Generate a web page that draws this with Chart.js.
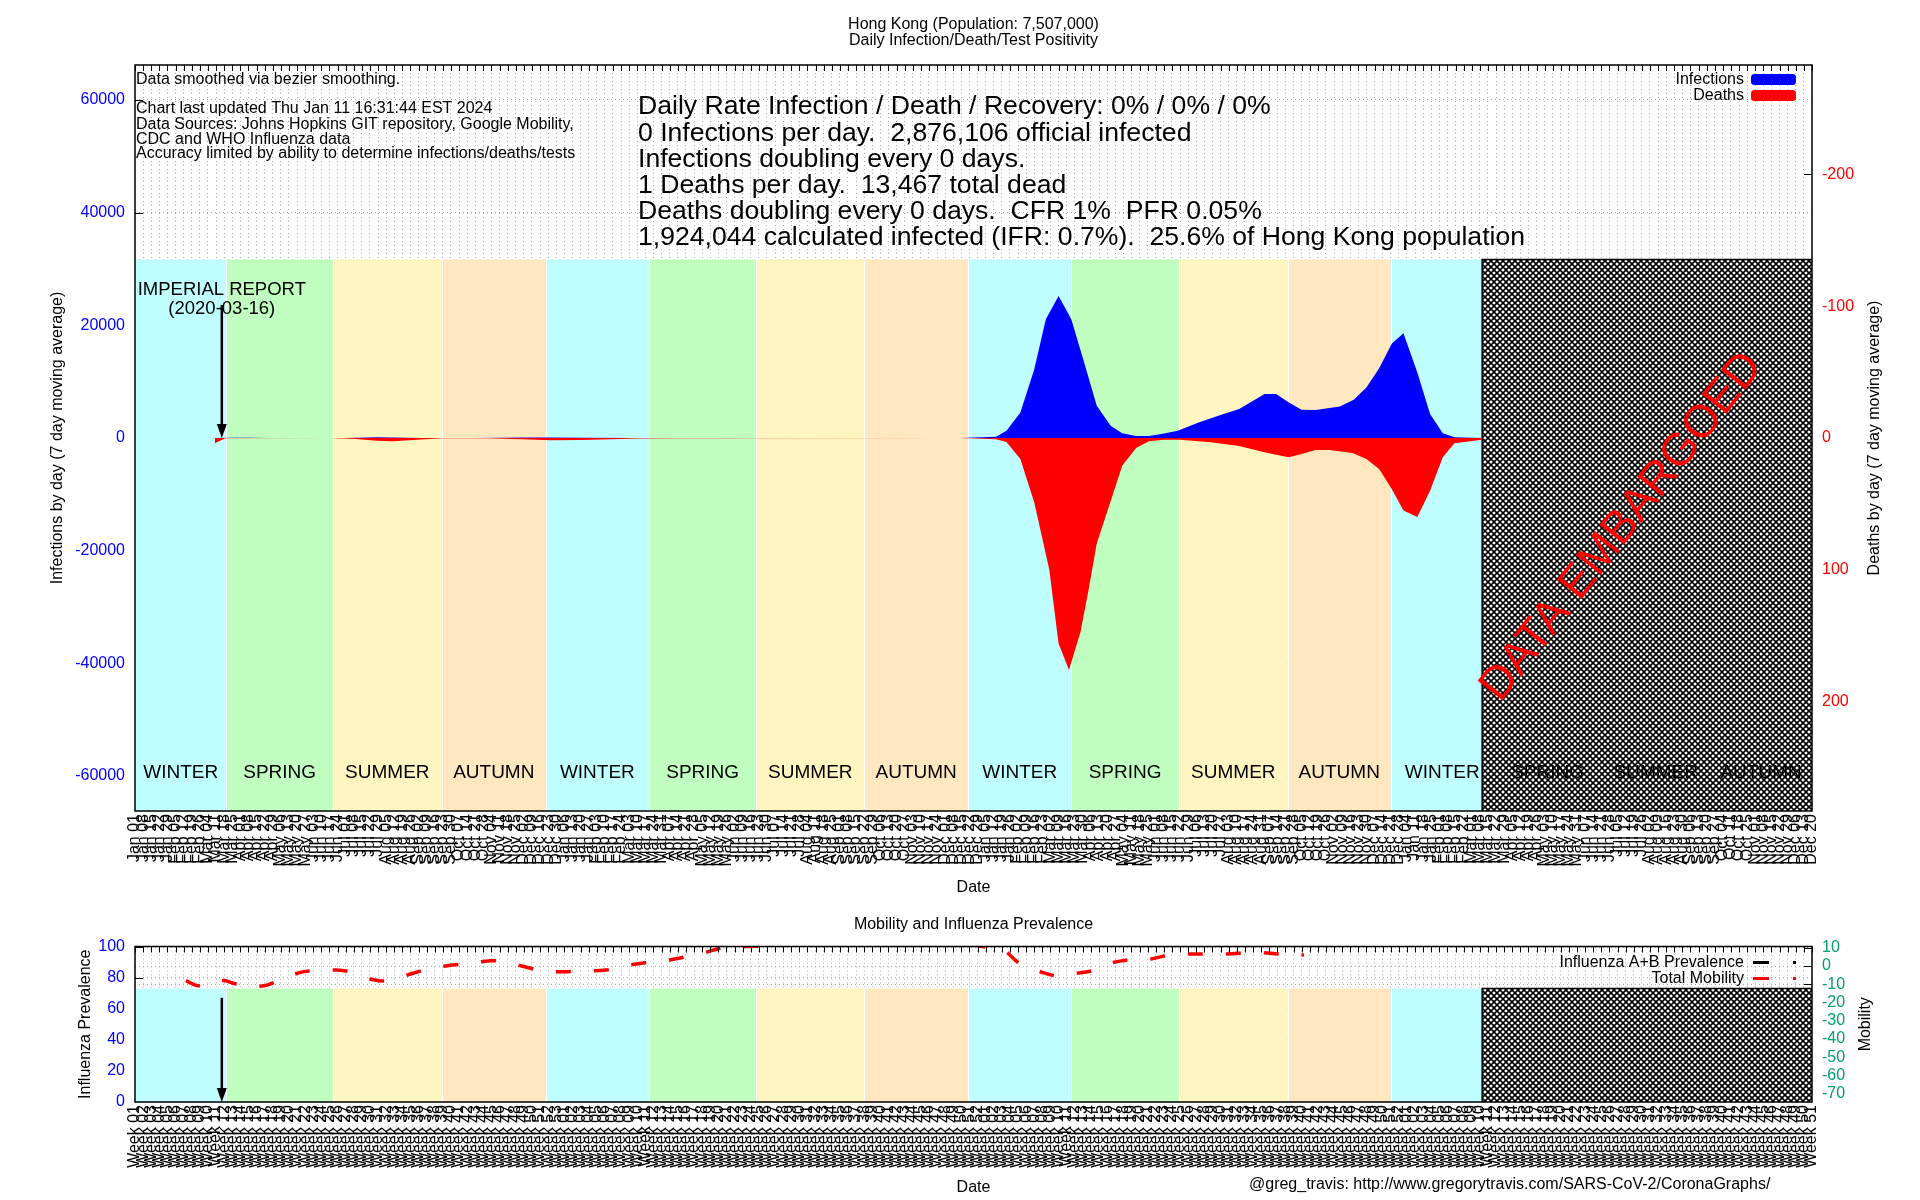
<!DOCTYPE html>
<html>
<head>
  <meta charset="utf-8">
  <title>Hong Kong - Daily Infection/Death/Test Positivity</title>
  <script src="https://cdn.jsdelivr.net/npm/chart.js"></script>
  <style>
    body { margin: 0; background: #fff; }
    #wrap { position: relative; width: 1920px; height: 1200px; }
    #mainChart { position: absolute; left: 0; top: 0; }
    #mobChart { position: absolute; left: 0; top: 900px; }
  </style>
</head>
<body>
<div id="wrap">
  <canvas id="mainChart" width="1920" height="900"></canvas>
  <canvas id="mobChart" width="1920" height="300"></canvas>
</div>
<script>
// ---------- data ----------
const firstDay = '2020-01-01';
const lastDay = '2023-12-20';
const embargoFrom = '2023-03-10';
const imperialDate = '2020-03-16';

const seasonNames = ['WINTER', 'SPRING', 'SUMMER', 'AUTUMN', 'WINTER', 'SPRING', 'SUMMER', 'AUTUMN',
  'WINTER', 'SPRING', 'SUMMER', 'AUTUMN', 'WINTER', 'SPRING', 'SUMMER', 'AUTUMN'];
const seasonStarts = ['2020-01-01', '2020-03-20', '2020-06-20', '2020-09-22', '2020-12-21', '2021-03-20',
  '2021-06-21', '2021-09-22', '2021-12-21', '2022-03-20', '2022-06-21', '2022-09-23', '2022-12-21',
  '2023-03-20', '2023-06-21', '2023-09-23'];
const seasonColors = { WINTER: '#c0ffff', SPRING: '#c0ffc0', SUMMER: '#fff5c0', AUTUMN: '#ffe8c0' };

const infTicks = [-60000, -40000, -20000, 0, 20000, 40000, 60000];
const deathTicks = [-200, -100, 0, 100, 200];

const infDates = ['2020-03-10', '2020-03-25', '2020-04-08', '2020-04-25', '2020-06-01', '2020-07-01',
  '2020-07-28', '2020-08-10', '2020-09-05', '2020-10-20', '2020-12-05', '2020-12-25', '2021-01-25',
  '2021-03-05', '2021-05-01', '2021-08-01', '2021-12-14', '2022-01-14', '2022-01-23', '2022-02-04',
  '2022-02-16', '2022-02-26', '2022-03-09', '2022-03-20', '2022-04-01', '2022-04-11', '2022-04-23',
  '2022-05-03', '2022-05-15', '2022-05-26', '2022-06-06', '2022-06-20', '2022-07-08', '2022-07-25',
  '2022-08-12', '2022-09-03', '2022-09-13', '2022-09-24', '2022-10-05', '2022-10-17', '2022-11-07',
  '2022-11-19', '2022-11-30', '2022-12-11', '2022-12-22', '2023-01-01', '2023-01-13', '2023-01-24',
  '2023-02-04', '2023-02-14', '2023-03-10'];
const infValues = [5, 50, 40, 4, 2, 20, 120, 90, 15, 8, 90, 70, 50, 15, 5, 2, 0, 236, 1300, 4540,
  12200, 21060, 25200, 21060, 12800, 5720, 2180, 826, 354, 354, 708, 1300, 2770, 3950,
  5130, 7790, 7790, 6310, 5015, 4956, 5600, 6785, 8970, 12400, 16760, 18600, 11620, 4250,
  826, 118, 0];

const deathDates = ['2020-03-10', '2020-03-19', '2020-06-18', '2020-07-10', '2020-07-28', '2020-08-11',
  '2020-08-28', '2020-09-22', '2020-11-01', '2020-12-01', '2020-12-25', '2021-01-20', '2021-02-15',
  '2021-03-10', '2021-04-10', '2021-12-14', '2022-01-14', '2022-01-23', '2022-02-04', '2022-02-16',
  '2022-03-01', '2022-03-09', '2022-03-18', '2022-03-28', '2022-04-04', '2022-04-11', '2022-04-23',
  '2022-05-03', '2022-05-15', '2022-05-26', '2022-06-08', '2022-06-22', '2022-07-18', '2022-08-11',
  '2022-09-03', '2022-09-13', '2022-09-24', '2022-10-05', '2022-10-17', '2022-10-29', '2022-11-18',
  '2022-11-30', '2022-12-11', '2022-12-22', '2023-01-01', '2023-01-13', '2023-01-24', '2023-02-04',
  '2023-02-14', '2023-03-10'];
const deathValues = [4, 0.2, 0, 0.8, 2, 2.5, 1.5, 0.2, 0.2, 1, 1.8, 1.6, 1, 0.4, 0.1, 0, 1, 3, 16, 49,
  100, 156, 176, 147, 115, 80, 48, 21, 7.6, 2.5, 1.3, 1.3, 3.3, 5.8,
  10.9, 12.7, 14.7, 12.2, 9.1, 9.1, 11.4, 16, 23.6, 38.8, 55, 60, 40, 14.7, 4, 1.3];

const mobDates = ['2020-02-14', '2020-02-25', '2020-03-17', '2020-03-29', '2020-04-20', '2020-05-02',
  '2020-05-22', '2020-06-02', '2020-06-23', '2020-07-07', '2020-07-26', '2020-08-09', '2020-08-29',
  '2020-09-11', '2020-10-01', '2020-10-14', '2020-11-03', '2020-11-15', '2020-12-06', '2020-12-18',
  '2021-01-08', '2021-01-22', '2021-02-11', '2021-02-23', '2021-03-17', '2021-03-30', '2021-04-19',
  '2021-05-03', '2021-05-22', '2021-06-02', '2021-06-25', '2021-07-06', '2021-08-05', '2021-09-15',
  '2021-10-25', '2021-12-01', '2022-01-08', '2022-01-19', '2022-02-05', '2022-02-19', '2022-03-09',
  '2022-03-23', '2022-04-10', '2022-04-21', '2022-05-15', '2022-05-28', '2022-06-16', '2022-06-26',
  '2022-07-20', '2022-07-31', '2022-08-24', '2022-09-02', '2022-09-27', '2022-10-07'];
const mobValues = [-8.0, -10.8, -8.0, -9.9, -11.0, -8.6, -3.6, -2.6, -2.2, -3.5, -7.7, -7.7, -3.8,
  -1.6, 0.55, 1.1, 2.9, 2.2, -0.9, -2.7, -3.1, -2.7, -2.2, -0.4, 1.8, 2.4, 4.8,
  6.6, 9.9, 10.5, 10.8, 10.8, 12.5, 14, 13, 13.5, 10.1, 9.3, 0.6, -2.7, -5.5,
  -4.1, -2.1, 1.3, 3.9, 3.9, 6.6, 6.6, 6.6, 6.6, 7.3, 7.3, 6.0, 6.0];
const fluDates = [];
const fluValues = [];

const monthNames = ['Jan', 'Feb', 'Mar', 'Apr', 'May', 'Jun', 'Jul', 'Aug', 'Sep', 'Oct', 'Nov', 'Dec'];
const mainTitle = ['Hong Kong (Population: 7,507,000)', 'Daily Infection/Death/Test Positivity'];
const notes = ['Data smoothed via bezier smoothing.', '',
  'Chart last updated Thu Jan 11 16:31:44 EST 2024',
  'Data Sources: Johns Hopkins GIT repository, Google Mobility,',
  'CDC and WHO Influenza data',
  'Accuracy limited by ability to determine infections/deaths/tests'];
const stats = ['Daily Rate Infection / Death / Recovery: 0% / 0% / 0%',
  '0 Infections per day.  2,876,106 official infected',
  'Infections doubling every 0 days.',
  '1 Deaths per day.  13,467 total dead',
  'Deaths doubling every 0 days.  CFR 1%  PFR 0.05%',
  '1,924,044 calculated infected (IFR: 0.7%).  25.6% of Hong Kong population'];

// ---------- helpers ----------
const FONT = '"Liberation Sans", Arial, Helvetica, sans-serif';
const DAY = 86400000;
const t0 = Date.UTC(2020, 0, 1);
function dayOf(s) {
  const p = s.split('-').map(Number);
  return (Date.UTC(p[0], p[1] - 1, p[2]) - t0) / DAY;
}
function pts(dates, vals) { return dates.map((d, i) => ({ x: dayOf(d), y: vals[i] })); }
function dateLabel(v) {
  const d = new Date(t0 + v * DAY);
  return monthNames[d.getUTCMonth()] + ' ' + String(d.getUTCDate()).padStart(2, '0');
}
function weekLabel(v) {
  const d = new Date(t0 + v * DAY);
  const doy = (d.getTime() - Date.UTC(d.getUTCFullYear(), 0, 1)) / DAY;
  return 'Week ' + String(Math.floor(doy / 7) + 1).padStart(2, '0');
}
const weekTicks = [];
for (let v = dayOf(firstDay); v <= dayOf(lastDay); v += 7) weekTicks.push(v);

function hatchPattern(ctx) {
  const c = document.createElement('canvas');
  c.width = 6; c.height = 6;
  const g = c.getContext('2d');
  g.fillStyle = '#fff'; g.fillRect(0, 0, 6, 6);
  g.strokeStyle = '#000'; g.lineWidth = 1.6;
  g.beginPath();
  g.moveTo(-1, -1); g.lineTo(7, 7);
  g.moveTo(7, -1); g.lineTo(-1, 7);
  g.stroke();
  return ctx.createPattern(c, 'repeat');
}

Chart.defaults.font.family = FONT;
Chart.defaults.color = '#000';
Chart.defaults.animation = false;

function xScale(fmt, height) {
  return {
    type: 'linear', min: dayOf(firstDay), max: dayOf(lastDay),
    afterBuildTicks: s => { s.ticks = weekTicks.map(v => ({ value: v })); },
    afterFit: s => { s.height = height; },
    ticks: { autoSkip: false, minRotation: 90, maxRotation: 90, padding: 3, font: { size: 16 }, color: '#000', callback: fmt },
    grid: { color: '#a8a8a8', lineWidth: 1, drawTicks: false },
    border: { display: false, dash: [1, 3] },
    title: { display: true, text: 'Date', font: { size: 16 }, color: '#000', padding: { top: 0, bottom: 3 } }
  };
}

// season bands, embargo hatch, season names
const seasonPlugin = {
  id: 'seasons',
  beforeDatasetsDraw(chart, args, opts) {
    const { ctx, chartArea: a, scales: { x, y } } = chart;
    const top = y.getPixelForValue(opts.bandTop);
    const h = a.bottom - top;
    const xs = seasonStarts.map(d => x.getPixelForValue(dayOf(d)));
    xs.push(a.right);
    ctx.save();
    ctx.beginPath(); ctx.rect(a.left, a.top, a.width, a.height); ctx.clip();
    seasonNames.forEach((n, i) => {
      ctx.fillStyle = seasonColors[n];
      ctx.fillRect(xs[i], top, xs[i + 1] - xs[i], h);
    });
    ctx.strokeStyle = '#fff'; ctx.lineWidth = 1;
    for (let i = 1; i < seasonNames.length; i++) {
      ctx.beginPath();
      ctx.moveTo(Math.round(xs[i]) + 0.5, top);
      ctx.lineTo(Math.round(xs[i]) + 0.5, a.bottom);
      ctx.stroke();
    }
    const hx = x.getPixelForValue(dayOf(embargoFrom));
    ctx.fillStyle = hatchPattern(ctx);
    ctx.fillRect(hx, top, a.right - hx, h);
    ctx.strokeStyle = '#000'; ctx.lineWidth = 1.5;
    ctx.beginPath();
    ctx.moveTo(hx, a.bottom); ctx.lineTo(hx, top); ctx.lineTo(a.right, top);
    ctx.stroke();
    if (opts.labelAt !== undefined) {
      ctx.fillStyle = '#000';
      ctx.font = '19px ' + FONT;
      ctx.textAlign = 'center'; ctx.textBaseline = 'middle';
      const ly = y.getPixelForValue(opts.labelAt);
      seasonNames.forEach((n, i) => ctx.fillText(n, (xs[i] + xs[i + 1]) / 2, ly));
    }
    ctx.restore();
  }
};

function drawFrame(chart, bandTop) {
  const { ctx, chartArea: a, scales } = chart;
  ctx.save();
  ctx.strokeStyle = '#000'; ctx.lineWidth = 1;
  ctx.beginPath();
  weekTicks.forEach(v => {
    const px = Math.round(scales.x.getPixelForValue(v)) + 0.5;
    ctx.moveTo(px, a.top); ctx.lineTo(px, a.top + 6);
  });
  scales.y.ticks.forEach(t => {
    const py = Math.round(scales.y.getPixelForValue(t.value)) + 0.5;
    if (py < bandTop) { ctx.moveTo(a.left, py); ctx.lineTo(a.left + 8, py); }
  });
  scales.y2.ticks.forEach(t => {
    const py = Math.round(scales.y2.getPixelForValue(t.value)) + 0.5;
    if (py < bandTop) { ctx.moveTo(a.right - 8, py); ctx.lineTo(a.right, py); }
  });
  ctx.stroke();
  ctx.lineWidth = 1.5;
  ctx.strokeRect(a.left, a.top, a.width, a.height);
  ctx.restore();
}

function drawArrow(ctx, x, y0, y1) {
  ctx.save();
  ctx.strokeStyle = '#000'; ctx.fillStyle = '#000'; ctx.lineWidth = 2.5;
  ctx.beginPath(); ctx.moveTo(x, y0); ctx.lineTo(x, y1 - 10); ctx.stroke();
  ctx.beginPath(); ctx.moveTo(x - 5, y1 - 14); ctx.lineTo(x + 5, y1 - 14); ctx.lineTo(x, y1); ctx.closePath(); ctx.fill();
  ctx.restore();
}

function vText(ctx, text, x, y, size) {
  ctx.save();
  ctx.translate(x, y); ctx.rotate(-Math.PI / 2);
  ctx.font = size + 'px ' + FONT; ctx.fillStyle = '#000';
  ctx.textAlign = 'center'; ctx.textBaseline = 'middle';
  ctx.fillText(text, 0, 0);
  ctx.restore();
}

const mainNotes = {
  id: 'mainNotes',
  afterDatasetsDraw(chart) {
    const { ctx, chartArea: a, scales: { x, y } } = chart;
    const cx = (a.left + a.right) / 2;
    ctx.save();
    ctx.fillStyle = '#000'; ctx.textBaseline = 'middle';
    ctx.font = '16px ' + FONT; ctx.textAlign = 'center';
    ctx.fillText(mainTitle[0], cx, 24.5);
    ctx.fillText(mainTitle[1], cx, 40.5);

    ctx.textAlign = 'left';
    const noteY = [80, 95, 109, 124.5, 139.5, 154];
    notes.forEach((t, i) => ctx.fillText(t, a.left + 1, noteY[i]));

    ctx.font = '26.6px ' + FONT;
    stats.forEach((t, i) => ctx.fillText(t, 638, 107 + i * 26.2));

    // legend
    ctx.font = '16px ' + FONT; ctx.textAlign = 'right';
    ctx.fillText('Infections', 1744, 79.5);
    ctx.fillText('Deaths', 1744, 95.5);
    ctx.fillStyle = '#0000ff';
    ctx.beginPath(); ctx.roundRect(1751, 74, 45, 11, 3.5); ctx.fill();
    ctx.fillStyle = '#ff0000';
    ctx.beginPath(); ctx.roundRect(1751, 90, 45, 11, 3.5); ctx.fill();

    // imperial report marker
    const ix = x.getPixelForValue(dayOf(imperialDate));
    ctx.fillStyle = '#000'; ctx.textAlign = 'center';
    ctx.font = '18.5px ' + FONT;
    ctx.fillText('IMPERIAL REPORT', ix, 290);
    ctx.fillText('(2020-03-16)', ix, 308.5);
    drawArrow(ctx, ix, 305, y.getPixelForValue(0));

    // embargo stamp
    ctx.save();
    ctx.translate(1622, 527); ctx.rotate(-52 * Math.PI / 180);
    ctx.font = '46px ' + FONT; ctx.fillStyle = '#ff0000';
    ctx.fillText('DATA EMBARGOED', 0, 0);
    ctx.restore();

    vText(ctx, 'Deaths by day (7 day moving average)', 1875, (a.top + a.bottom) / 2, 16);
    ctx.restore();
    drawFrame(chart, y.getPixelForValue(31700));
  }
};

const mobNotes = {
  id: 'mobNotes',
  afterDatasetsDraw(chart) {
    const { ctx, chartArea: a, scales: { x, y } } = chart;
    ctx.save();
    ctx.fillStyle = '#000'; ctx.textBaseline = 'middle';
    ctx.font = '16px ' + FONT; ctx.textAlign = 'center';
    ctx.fillText('Mobility and Influenza Prevalence', (a.left + a.right) / 2, 24.5);

    ctx.textAlign = 'right';
    ctx.fillText('Influenza A+B Prevalence', 1744, 62.5);
    ctx.fillText('Total Mobility', 1744, 78.5);
    ctx.fillStyle = '#000'; ctx.fillRect(1753, 61, 16, 3); ctx.fillRect(1793, 61, 3, 3);
    ctx.fillStyle = '#ff0000'; ctx.fillRect(1753, 77, 16, 3); ctx.fillRect(1793, 77, 3, 3);

    ctx.fillStyle = '#000'; ctx.textAlign = 'left';
    ctx.fillText('@greg_travis: http://www.gregorytravis.com/SARS-CoV-2/CoronaGraphs/', 1249, 285);

    vText(ctx, 'Mobility', 1866, (a.top + a.bottom) / 2, 16);
    drawArrow(ctx, x.getPixelForValue(dayOf(imperialDate)), y.getPixelForValue(67), a.bottom);
    ctx.restore();
    drawFrame(chart, y.getPixelForValue(73));
  }
};

// ---------- main chart ----------
new Chart(document.getElementById('mainChart').getContext('2d'), {
  type: 'line',
  data: {
    datasets: [{
      label: 'Infections',
      data: pts(infDates, infValues),
      yAxisID: 'y',
      borderColor: '#0000ff', backgroundColor: '#0000ff', borderWidth: 0,
      fill: 'origin', pointRadius: 0, tension: 0
    }, {
      label: 'Deaths',
      data: pts(deathDates, deathValues),
      yAxisID: 'y2',
      borderColor: '#ff0000', backgroundColor: '#ff0000', borderWidth: 0,
      fill: 'origin', pointRadius: 0, tension: 0
    }]
  },
  options: {
    responsive: false,
    maintainAspectRatio: false,
    layout: { padding: { top: 65, left: 0, right: 0, bottom: 0 } },
    scales: {
      x: xScale(dateLabel, 89),
      y: {
        position: 'left', min: -66200, max: 66200,
        afterFit: s => { s.width = 135; },
        afterBuildTicks: s => { s.ticks = infTicks.map(v => ({ value: v })); },
        ticks: { color: '#0000ff', font: { size: 16 }, padding: 10, callback: v => String(v) },
        grid: { color: '#a8a8a8', drawTicks: false },
        border: { display: false, dash: [1, 3] },
        title: { display: true, text: 'Infections by day (7 day moving average)', font: { size: 16 }, color: '#000', padding: { top: 48, bottom: 0 } }
      },
      y2: {
        position: 'right', min: -283, max: 283, reverse: true,
        afterFit: s => { s.width = 108; },
        afterBuildTicks: s => { s.ticks = deathTicks.map(v => ({ value: v })); },
        ticks: { color: '#ff0000', font: { size: 16 }, padding: 10, callback: v => String(v) },
        grid: { display: false, drawTicks: false },
        border: { display: false }
      }
    },
    plugins: {
      legend: { display: false },
      tooltip: { enabled: false },
      seasons: { bandTop: 31700, labelAt: -59500 }
    }
  },
  plugins: [seasonPlugin, mainNotes]
});

// ---------- mobility / influenza chart ----------
new Chart(document.getElementById('mobChart').getContext('2d'), {
  type: 'line',
  data: {
    datasets: [{
      label: 'Influenza A+B Prevalence',
      data: pts(fluDates, fluValues),
      yAxisID: 'y',
      borderColor: '#000', borderWidth: 3, pointRadius: 0
    }, {
      label: 'Total Mobility',
      data: pts(mobDates, mobValues),
      yAxisID: 'y2',
      borderColor: '#ff0000', borderWidth: 3.5, borderDash: [15, 23],
      pointRadius: 0, tension: 0.4, fill: false, clip: 0
    }]
  },
  options: {
    responsive: false,
    maintainAspectRatio: false,
    layout: { padding: { top: 46.5, left: 0, right: 0, bottom: 0 } },
    scales: {
      x: xScale(weekLabel, 98),
      y: {
        position: 'left', min: 0, max: 100,
        afterFit: s => { s.width = 135; },
        ticks: { stepSize: 20, autoSkip: false, color: '#0000ff', font: { size: 16 }, padding: 10 },
        grid: { color: '#a8a8a8', drawTicks: false },
        border: { display: false, dash: [1, 3] },
        title: { display: true, text: 'Influenza Prevalence', font: { size: 16 }, color: '#000', padding: { top: 76, bottom: 0 } }
      },
      y2: {
        position: 'right', min: -74.5, max: 10.7,
        afterFit: s => { s.width = 108; },
        ticks: { stepSize: 10, includeBounds: false, autoSkip: false, color: '#009e73', font: { size: 16 }, padding: 10 },
        grid: { color: '#a8a8a8', drawTicks: false },
        border: { display: false, dash: [1, 3] }
      }
    },
    plugins: {
      legend: { display: false },
      tooltip: { enabled: false },
      seasons: { bandTop: 73 }
    }
  },
  plugins: [seasonPlugin, mobNotes]
});
</script>
</body>
</html>
